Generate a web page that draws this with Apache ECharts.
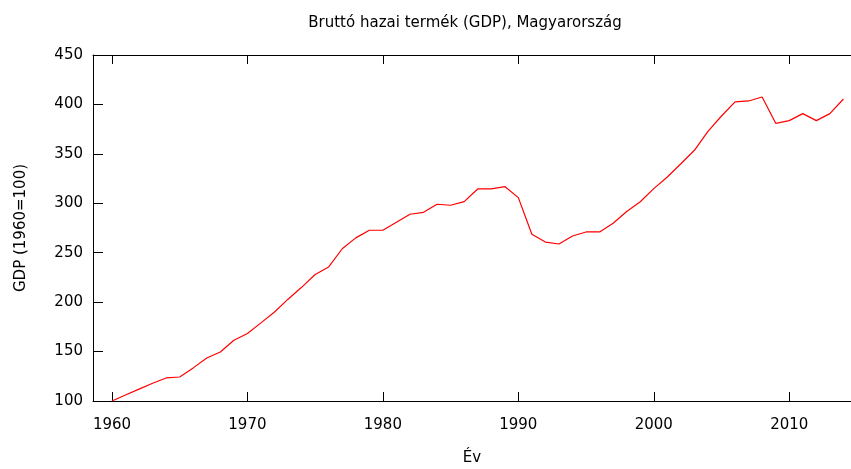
<!DOCTYPE html>
<html>
<head>
<meta charset="utf-8">
<script src="https://cdn.jsdelivr.net/npm/echarts@6/dist/echarts.min.js"></script>
<style>
  html, body { margin: 0; padding: 0; background: #fff; }
  #chart { width: 851px; height: 469px; }
</style>
</head>
<body>
<div id="chart"></div>
<script>
// évek és GDP index (1960=100)
var years = [1960, 1961, 1962, 1963, 1964, 1965, 1966, 1967, 1968, 1969,
  1970, 1971, 1972, 1973, 1974, 1975, 1976, 1977, 1978, 1979,
  1980, 1981, 1982, 1983, 1984, 1985, 1986, 1987, 1988, 1989,
  1990, 1991, 1992, 1993, 1994, 1995, 1996, 1997, 1998, 1999,
  2000, 2001, 2002, 2003, 2004, 2005, 2006, 2007, 2008, 2009,
  2010, 2011, 2012, 2013, 2014];
var gdp = [100, 106, 112, 118, 123.3, 124.3, 133.5, 143.5, 149.6, 161.4,
  168.2, 179, 190, 203, 215, 228, 235.6, 254, 265, 272.7,
  272.7, 280.8, 288.9, 290.9, 299, 298, 301.7, 314.5, 314.5, 316.9,
  305.7, 268.6, 260.8, 258.8, 266.9, 271, 271, 279.8, 291.7, 301.6,
  314.8, 326.6, 340, 353.6, 372.8, 388.3, 402.5, 403.5, 407.5, 380.9,
  383.6, 390.7, 383.6, 390.7, 405.5];
var xTicks = [1960, 1970, 1980, 1990, 2000, 2010];

var myChart = echarts.init(document.getElementById('chart'));
var font = 'DejaVu Sans, Verdana, sans-serif';

var option = {
  animation: false,
  title: {
    text: 'Bruttó hazai termék (GDP), Magyarország',
    left: 460,
    top: 11,
    textAlign: 'center',
    textStyle: { fontFamily: font, fontSize: 15, fontWeight: 'normal', color: '#000' }
  },
  grid: { left: 93, right: 0, top: 55, bottom: 68, outerBoundsMode: 'none' },
  xAxis: [
    {
      type: 'value',
      min: 1958.6,
      max: 2014.56,
      position: 'bottom',
      name: 'Év',
      nameLocation: 'middle',
      nameGap: 50,
      nameTextStyle: { fontFamily: font, fontSize: 15, color: '#000' },
      axisLine: { onZero: false, lineStyle: { color: '#000', width: 1 } },
      axisTick: { inside: true, length: 9, lineStyle: { color: '#000' }, customValues: xTicks },
      axisLabel: {
        fontFamily: font, fontSize: 15, color: '#000', margin: 17,
        customValues: xTicks,
        formatter: function (v) { return String(v); }
      },
      splitLine: { show: false }
    },
    {
      type: 'value',
      min: 1958.6,
      max: 2014.56,
      position: 'top',
      axisLine: { onZero: false, lineStyle: { color: '#000', width: 1 } },
      axisTick: { inside: true, length: 9, lineStyle: { color: '#000' }, customValues: xTicks },
      axisLabel: { show: false },
      splitLine: { show: false }
    }
  ],
  yAxis: {
    type: 'value',
    min: 100,
    max: 450,
    interval: 50,
    name: 'GDP (1960=100)',
    nameLocation: 'middle',
    nameGap: 64,
    nameTextStyle: { fontFamily: font, fontSize: 15, color: '#000' },
    axisLine: { show: true, onZero: false, lineStyle: { color: '#000', width: 1 } },
    axisTick: { show: true, inside: true, length: 10, lineStyle: { color: '#000' } },
    axisLabel: { fontFamily: font, fontSize: 15, color: '#000', margin: 10 },
    splitLine: { show: false }
  },
  series: [
    {
      type: 'line',
      data: years.map(function (y, i) { return [y, gdp[i]]; }),
      showSymbol: false,
      lineStyle: { color: '#ff0000', width: 1.2 },
      itemStyle: { color: '#ff0000' }
    }
  ]
};

option && myChart.setOption(option);
</script>
</body>
</html>
